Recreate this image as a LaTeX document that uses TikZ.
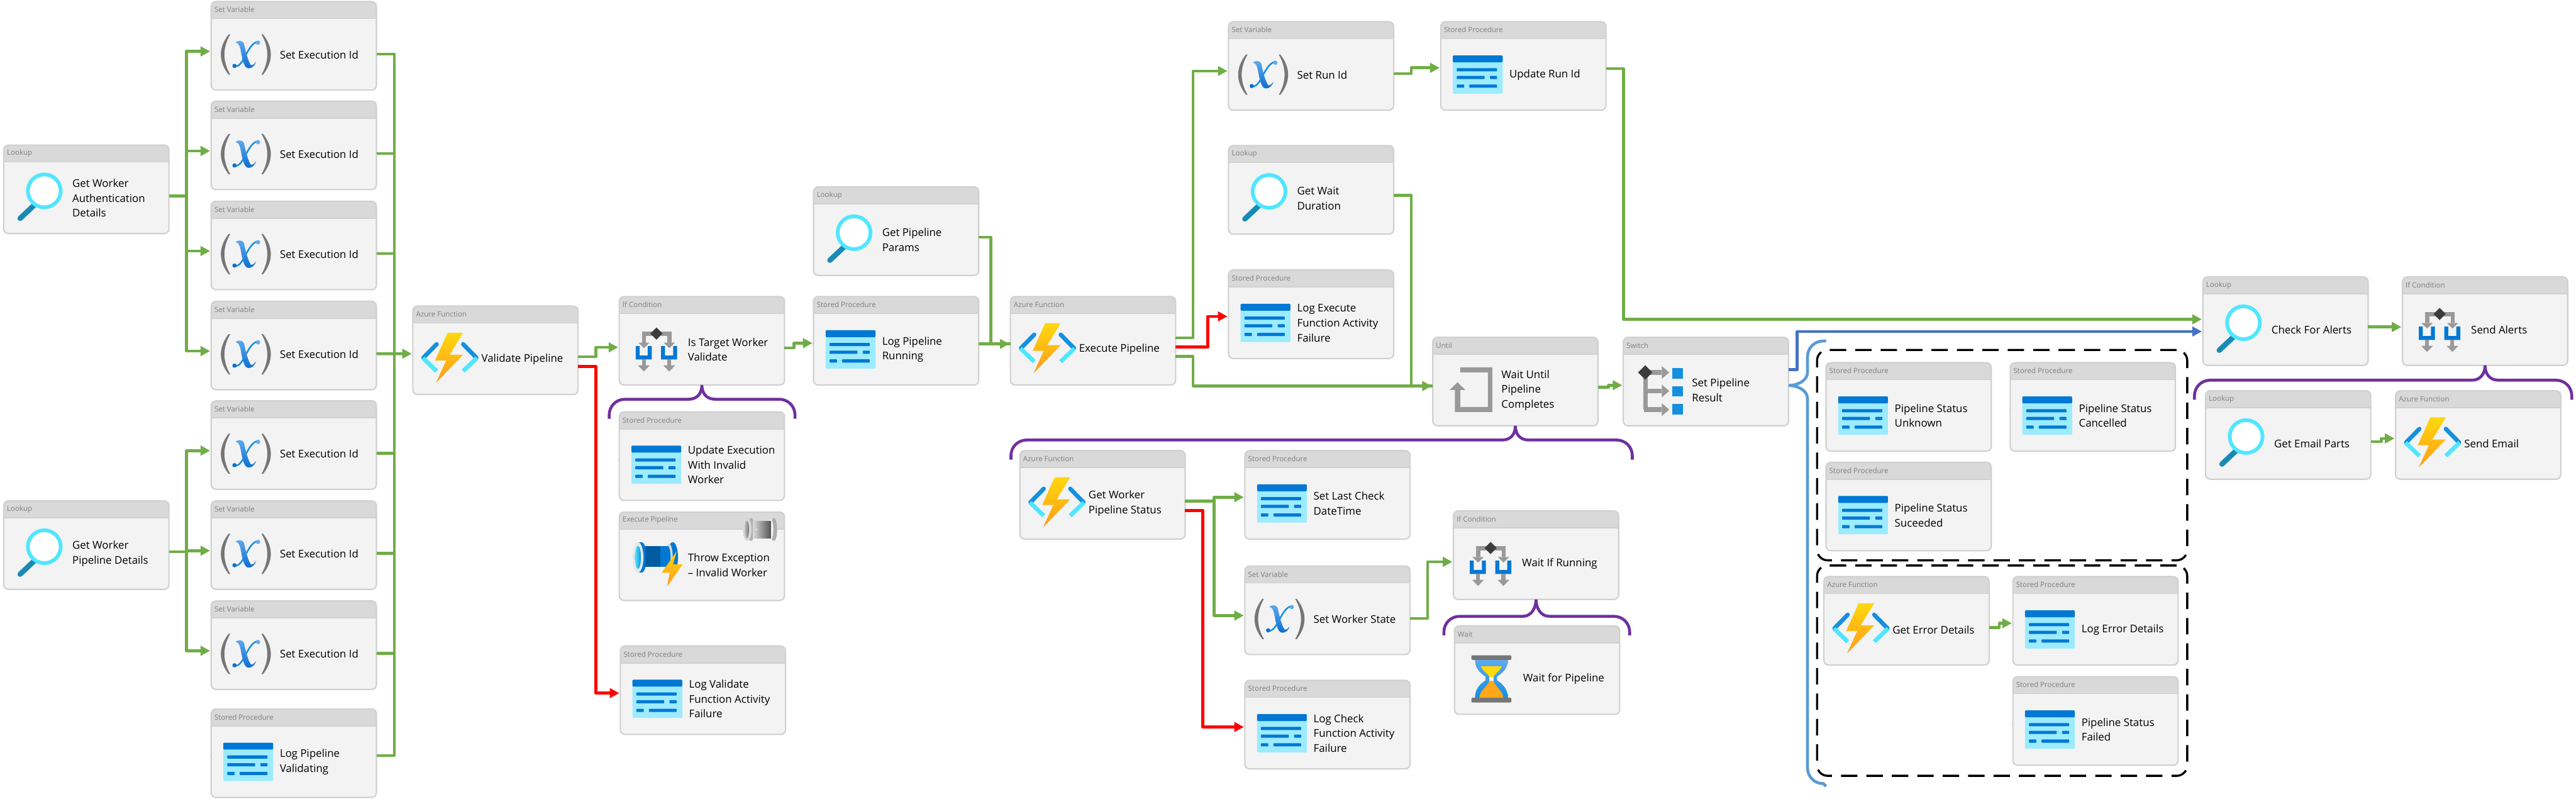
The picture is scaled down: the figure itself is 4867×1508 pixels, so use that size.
\documentclass[tikz,border=0pt]{standalone}
\usepackage{xcolor}
\usepackage{fontspec}
\setmainfont{Open Sans}
\usetikzlibrary{arrows.meta}

\definecolor{boxfill}{HTML}{F3F3F3}
\definecolor{boxhead}{HTML}{D9D9D9}
\definecolor{boxedge}{HTML}{D0D0D0}
\definecolor{kindgray}{HTML}{7F7F7F}
\definecolor{flowgreen}{HTML}{70AD47}
\definecolor{flowblue}{HTML}{4472C4}
\definecolor{flowred}{HTML}{FF0000}
\definecolor{bracepurple}{HTML}{7030A0}
\definecolor{bracesky}{HTML}{5B9BD5}
\definecolor{azure}{HTML}{0078D4}
\definecolor{azuredark}{HTML}{005BA1}
\definecolor{azuremid}{HTML}{1490DF}
\definecolor{cyanlight}{HTML}{50E6FF}
\definecolor{cyanpale}{HTML}{9CEBFF}
\definecolor{lenshandle}{HTML}{198AB3}
\definecolor{icongray}{HTML}{999999}
\definecolor{icondark}{HTML}{3B3B3B}
\definecolor{parengray}{HTML}{767676}
\definecolor{boltyellow}{HTML}{FED80E}
\definecolor{boltorange}{HTML}{FE9B1A}
\definecolor{xlight}{HTML}{5EA9EF}
\definecolor{xdark}{HTML}{0F6FD0}

% Icons, drawn from the top left corner of their box
\tikzset{
	lookupicon/.pic={
		\draw[lenshandle, line width=.1cm, line cap=round] (58,115) -- (32,139.5);
		\draw[cyanlight, fill=white, line width=.07cm] (77.7,87.5) circle (.31cm);
	},
	storedicon/.pic={
		\fill[cyanpale, rounded corners=.015cm] (24,64.7) rectangle (118,137);
		\fill[azure, rounded corners=.015cm] (24,64.7) rectangle (118,77.7);
		\foreach \ya/\xa/\xb/\xc/\xd in {91.7/31.3/107.3/0/0, 106.3/31.3/84/94/107.3, 122.7/31.3/45.3/55/107.3}{
			\fill[azure, rounded corners=.01cm] (\xa,\ya-3) rectangle (\xb,\ya+3);
			\fill[azure, rounded corners=.01cm] (\xc,\ya-3) rectangle (\xd,\ya+3);
		}
	},
	functionicon/.pic={
		\draw[azuremid, line width=.08cm, line cap=round] (46,73) -- (21,98.5);
		\draw[cyanlight, line width=.08cm] (20,99) -- (46,124);
		\draw[azuremid, line width=.08cm, line cap=round] (96,73) -- (121,98.5);
		\draw[cyanlight, line width=.08cm] (122,99) -- (96,124);
		\shade[top color=boltyellow, bottom color=boltorange] (66.7,51.3) -- (96,51.3) -- (70.6,93) -- (96,93) -- (44.7,146) -- (64,103.7) -- (43,103.7) -- cycle;
	},
	varicon/.pic={
		\fill[parengray] (34,63) .. controls (14.4,88) and (14.4,114) .. (34,139) -- (37,139) .. controls (22.3,114) and (22.3,88) .. (37,63) -- cycle;
		\fill[parengray] (99,63) .. controls (118.6,88) and (118.6,114) .. (99,139) -- (96,139) .. controls (110.7,114) and (110.7,88) .. (96,63) -- cycle;
		\draw[azuremid, line width=.03cm] (89,77) .. controls (78,78) and (70,95) .. (62,110) .. controls (56,120) and (50,126) .. (45,122);
		\shade[top color=xlight, bottom color=xdark] (47,78) .. controls (52,74) and (60,74) .. (63,80) .. controls (66,95) and (70,112) .. (76,121) .. controls (80,122) and (83,118) .. (86,114) .. controls (84,122) and (78,127) .. (72,127) .. controls (64,127) and (61,115) .. (58,100) .. controls (56,88) and (54,79) .. (47,78) -- cycle;
		\fill[xlight] (89.5,78.5) circle (.04cm);
		\fill[xdark] (45,122.5) circle (.04cm);
	},
	ificon/.pic={
		\fill[icongray] (44,67.7) rectangle (99.3,76);
		\foreach \dx in {0,48}{
			\fill[icongray] (44+\dx,67.7) rectangle (51.5+\dx,88);
			\fill[icongray] (37+\dx,88) -- (58.3+\dx,88) -- (47.7+\dx,98.5) -- cycle;
			\fill[azure] (32+\dx,94.7) -- (39.5+\dx,94.7) -- (39.5+\dx,112.5) -- (54.8+\dx,112.5) -- (54.8+\dx,94.7) -- (62.3+\dx,94.7) -- (62.3+\dx,120) -- (32+\dx,120) -- cycle;
			\fill[icongray] (43.7+\dx,120) rectangle (51+\dx,131);
			\fill[icongray] (36.3+\dx,131) -- (58.7+\dx,131) -- (47.5+\dx,142.7) -- cycle;
		}
		\fill[icondark] (71.3,59.5) -- (82.8,71) -- (71.3,82.5) -- (59.8,71) -- cycle;
	},
	untilicon/.pic={
		\fill[icongray] (52.9,57.9) -- (113.5,57.9) -- (113.5,142) -- (42.7,142) -- (42.7,100.6) -- (33,100.6) -- (47.8,86) -- (62.5,100.6) -- (52.9,100.6) -- (52.9,132.5) -- (105.2,132.5) -- (105.2,67.4) -- (52.9,67.4) -- cycle;
	},
	switchicon/.pic={
		\fill[icongray] (38.6,67.4) rectangle (47.6,137.6);
		\foreach \ya in {67.4,102.5,137.6}{
			\fill[icongray] (40,\ya-4.5) rectangle (73.7,\ya+4.5);
			\fill[icongray] (73.7,\ya-12) -- (87.7,\ya) -- (73.7,\ya+12) -- cycle;
		}
		\foreach \ya in {59,93,127.4}{
			\fill[azuremid] (93.5,\ya) rectangle (114,\ya+20);
		}
		\fill[icondark] (42.4,53.9) -- (55.9,67.4) -- (42.4,80.9) -- (28.9,67.4) -- cycle;
	},
	waiticon/.pic={
		\shade[top color=xlight, bottom color=azuremid] (39.7,65.3) .. controls (39.7,82) and (50,90) .. (59.7,97) -- (59.7,104) .. controls (50,110) and (39.7,120) .. (39.7,137) -- (102,137) .. controls (102,120) and (91,110) .. (81.3,104) -- (81.3,97) .. controls (91,90) and (102,82) .. (102,65.3) -- cycle;
		\fill[boxfill] (67,95) rectangle (74.7,106);
		\fill[boltyellow] (51,77.3) -- (90.3,77.3) .. controls (86,88) and (78,90) .. (74.7,97.3) -- (67,97.3) .. controls (63,90) and (55,88) .. (51,77.3) -- cycle;
		\fill[boltorange!80!boltyellow] (48,137) .. controls (49,122) and (62,118) .. (67,105) -- (74.7,105) .. controls (79,118) and (92,122) .. (93,137) -- cycle;
		\fill[parengray, rounded corners=.015cm] (33,56.7) rectangle (108.3,65.3);
		\fill[parengray, rounded corners=.015cm] (33,137) rectangle (108.3,145.7);
	},
	pipelineicon/.pic={
		% blue pipe
		\fill[azure] (102,86.7) ellipse (.1cm and .287cm);
		\fill[boxhead] (95,86.7) ellipse (.07cm and .26cm);
		\fill[azure] (43,86.7) ellipse (.1cm and .287cm);
		\fill[azure] (36.3,58) rectangle (43,115.4);
		\fill[boxhead!60!white] (36.3,86.7) ellipse (.103cm and .287cm);
		\shade[left color=cyanlight, right color=azuremid] (36.3,86.7) ellipse (.057cm and .217cm);
		\fill[azure] (92,84.9) ellipse (.06cm and .199cm);
		\fill[azure] (78.7,65) rectangle (92,104.7);
		\fill[azuredark] (50,65) rectangle (78.7,104.7);
		\shade[top color=boltyellow, bottom color=boltorange] (109.3,75.7) -- (81,115.7) -- (96,115.7) -- (91.7,141.3) -- (121,99.7) -- (102.7,99.7) -- cycle;
		% grey pipe in the header
		\fill[icongray!80!white] (293,34) ellipse (.063cm and .217cm);
		\fill[boxfill] (287,34) ellipse (.05cm and .2cm);
		\fill[icongray!80!white] (250,34) ellipse (.06cm and .217cm);
		\fill[boxhead] (242.7,34) ellipse (.083cm and .217cm);
		\shade[left color=icongray!60!white, right color=parengray] (242,34) ellipse (.043cm and .167cm);
		\shade[left color=boxhead, right color=parengray!70!black] (254,18) rectangle (287.7,50);
		\fill[boxfill] (260,34) circle (.015cm);
	}
}

% One activity: name, left, top, kind, icon, text
\newcommand{\activity}[6]{
	\node[actbox] (#1) at (#2+1,#3+1) {};
	\node[actkind] (#1kind) at ([xshift=.055cm,yshift=-.155cm]#1.north west) {#4};
	\pic at (#2,#3) {#5};
	\node[acttext] (#1text) at ([xshift=1.29cm,yshift=-1cm]#1.north west) {#6};
}

% Purple bracket under a node: node, left, right, horizontal y, arm end y
\newcommand{\bracket}[5]{
	\coordinate (#1left) at (#2,#5);
	\coordinate (#1right) at (#3,#5);
	\draw[bracket] (#1left) -- (#2,#4+30) .. controls +(0,-17) and +(-17,0) .. ++(30,-30) -- ([xshift=-.25cm]#1.south |- 0,#4) .. controls +(17,0) and +(0,15) .. (#1.south) .. controls +(0,15) and +(-17,0) .. ([xshift=.25cm]#1.south |- 0,#4) -- (#3-30,#4) .. controls +(17,0) and +(0,-17) .. ++(30,30) -- (#1right);
}

\begin{document}
\begin{tikzpicture}[
		x=.01cm, y=-.01cm,
		actbox/.style={draw=boxedge, fill=boxfill, line width=.025cm, rounded corners=.09cm, anchor=north west, minimum width=3.12cm, minimum height=1.67cm, inner sep=0pt, outer sep=0pt,
			path picture={\fill[boxhead, sharp corners] (path picture bounding box.north west) rectangle ([yshift=-.32cm]path picture bounding box.north east);
				\draw[boxedge, sharp corners, line width=.02cm] ([yshift=-.32cm]path picture bounding box.north west) -- ([yshift=-.32cm]path picture bounding box.north east);}},
		actkind/.style={font=\fontsize{3.9}{5}\selectfont, text=kindgray, anchor=west, inner sep=0pt},
		acttext/.style={font=\fontsize{5.7}{8}\selectfont, text=black, align=left, anchor=west, inner sep=0pt},
		flowline/.style={flowgreen, line width=.055cm, line join=round},
		flow/.style={flowline, -{Triangle[length=.18cm,width=.18cm]}, shorten >=.02cm},
		failflow/.style={flow, flowred},
		skipflow/.style={flow, flowblue},
		bracket/.style={bracepurple, line width=.055cm},
		groupbox/.style={draw=black, line width=.04cm, dash pattern=on .31cm off .17cm, rounded corners=.2cm, anchor=north west, inner sep=0pt, outer sep=0pt, minimum width=6.99cm, minimum height=3.97cm}
	]
	\useasboundingbox (0,0) rectangle (4867,1508);
	
	% Dashed groups
	\node[groupbox] (okgroup) at (3433,661) {};
	\node[groupbox] (failgroup) at (3433,1068) {};
	
	% Activities
	\activity{auth}{6}{273}{Lookup}{lookupicon}{Get Worker\\Authentication\\Details}
	\activity{details}{6}{945}{Lookup}{lookupicon}{Get Worker\\Pipeline Details}
	\activity{setid1}{398}{2}{Set Variable}{varicon}{Set Execution Id}
	\activity{setid2}{398}{190}{Set Variable}{varicon}{Set Execution Id}
	\activity{setid3}{398}{379}{Set Variable}{varicon}{Set Execution Id}
	\activity{setid4}{398}{568}{Set Variable}{varicon}{Set Execution Id}
	\activity{setid5}{398}{756}{Set Variable}{varicon}{Set Execution Id}
	\activity{setid6}{398}{945}{Set Variable}{varicon}{Set Execution Id}
	\activity{setid7}{398}{1134}{Set Variable}{varicon}{Set Execution Id}
	\activity{logvalidating}{398}{1338}{Stored Procedure}{storedicon}{Log Pipeline\\Validating}
	\activity{validate}{779}{577}{Azure Function}{functionicon}{Validate Pipeline}
	\activity{target}{1169}{559}{If Condition}{ificon}{Is Target Worker\\Validate}
	\activity{invalid}{1169}{777}{Stored Procedure}{storedicon}{Update Execution\\With Invalid\\Worker}
	\activity{throw}{1169}{966}{Execute Pipeline}{pipelineicon}{Throw Exception\\-- Invalid Worker}
	\activity{logvalidate}{1171}{1219}{Stored Procedure}{storedicon}{Log Validate\\Function Activity\\Failure}
	\activity{params}{1536}{352}{Lookup}{lookupicon}{Get Pipeline\\Params}
	\activity{running}{1536}{559}{Stored Procedure}{storedicon}{Log Pipeline\\Running}
	\activity{execute}{1908}{559}{Azure Function}{functionicon}{Execute Pipeline}
	\activity{status}{1926}{850}{Azure Function}{functionicon}{Get Worker\\Pipeline Status}
	\activity{runid}{2320}{40}{Set Variable}{varicon}{Set Run Id}
	\activity{updaterun}{2721}{40}{Stored Procedure}{storedicon}{Update Run Id}
	\activity{duration}{2320}{274}{Lookup}{lookupicon}{Get Wait\\Duration}
	\activity{logexecute}{2320}{509}{Stored Procedure}{storedicon}{Log Execute\\Function Activity\\Failure}
	\activity{lastcheck}{2351}{850}{Stored Procedure}{storedicon}{Set Last Check\\DateTime}
	\activity{state}{2351}{1068}{Set Variable}{varicon}{Set Worker State}
	\activity{logcheck}{2351}{1284}{Stored Procedure}{storedicon}{Log Check\\Function Activity\\Failure}
	\activity{until}{2706}{636}{Until}{untilicon}{Wait Until\\Pipeline\\Completes}
	\activity{waitif}{2745}{964}{If Condition}{ificon}{Wait If Running}
	\activity{waitfor}{2747}{1181}{Wait}{waiticon}{Wait for Pipeline}
	\activity{result}{3066}{636}{Switch}{switchicon}{Set Pipeline\\Result}
	\activity{unknown}{3449}{684}{Stored Procedure}{storedicon}{Pipeline Status\\Unknown}
	\activity{cancelled}{3797}{684}{Stored Procedure}{storedicon}{Pipeline Status\\Cancelled}
	\activity{suceeded}{3449}{872}{Stored Procedure}{storedicon}{Pipeline Status\\Suceeded}
	\activity{errors}{3445}{1088}{Azure Function}{functionicon}{Get Error Details}
	\activity{logerrors}{3802}{1088}{Stored Procedure}{storedicon}{Log Error Details}
	\activity{failed}{3802}{1277}{Stored Procedure}{storedicon}{Pipeline Status\\Failed}
	\activity{alerts}{4161}{522}{Lookup}{lookupicon}{Check For Alerts}
	\activity{sendalerts}{4538}{522}{If Condition}{ificon}{Send Alerts}
	\activity{parts}{4166}{737}{Lookup}{lookupicon}{Get Email Parts}
	\activity{email}{4525}{737}{Azure Function}{functionicon}{Send Email}
	
	% Arrows (set execution id)
	\foreach \act in {setid1,setid2,setid3,setid4}
	\draw[flow] ([yshift=-.125cm]auth.east) -- ++(33,0) |- ([yshift=-.105cm]\act.west);
	\foreach \act in {setid5,setid6,setid7}
	\draw[flow] ([yshift=-.125cm]details.east) -- ++(33,0) |- ([yshift=-.105cm]\act.west);
	\foreach \act in {setid2,setid3,setid5,setid6,setid7}
	\draw[flowline] ([yshift=-.155cm]\act.east) -- ++(34,0);
	\draw[flowline] ([yshift=-.155cm]setid1.east) -- ++(34,0) |- ([yshift=-.045cm]logvalidating.east);
	\draw[flow] ([yshift=-.155cm]setid4.east) -- ([yshift=-.065cm]validate.west);
	
	% Arrows (validate)
	\draw[flow] ([yshift=-.12cm]validate.east) -- ++(34,0) |- ([yshift=-.125cm]target.west);
	\draw[failflow] ([yshift=-.305cm]validate.east) -- ++(34,0) |- ([yshift=-.055cm]logvalidate.west);
	\draw[flow] ([yshift=-.135cm]target.east) -- ++(18,0) |- ([yshift=-.045cm]running.west);
	\draw[flowline] ([yshift=-.115cm]params.east) -- ++(23,0) |- ([yshift=-.06cm]execute.west);
	\draw[flow] ([yshift=-.06cm]running.east) -- ([yshift=-.06cm]execute.west);
	
	% Arrows (execute)
	\draw[flow] ([yshift=.055cm]execute.east) -- ++(33,0) |- ([yshift=-.095cm]runid.west);
	\draw[failflow] ([yshift=-.115cm]execute.east) -- ++(61,0) |- ([yshift=-.04cm]logexecute.west);
	\draw[flow] ([yshift=-.295cm]execute.east) -- ++(33,0) |- ([yshift=-.085cm]until.west);
	\draw[flowline] ([yshift=-.105cm]duration.east) -- ++(33,0) |- ([yshift=-.085cm]until.west);
	\draw[flow] ([yshift=-.145cm]runid.east) -- ++(33,0) |- ([yshift=-.035cm]updaterun.west);
	\draw[flow] ([yshift=-.05cm]updaterun.east) -- ++(33,0) |- ([yshift=.035cm]alerts.west);
	\draw[flow] ([yshift=-.11cm]until.east) -- ++(20,0) |- ([yshift=-.07cm]result.west);
	\draw[skipflow] ([yshift=.225cm]result.east) -- ++(16,0) |- ([yshift=-.195cm]alerts.west);
	
	% Arrows (inside the until)
	\draw[flow] ([yshift=-.12cm]status.east) -- ++(55,0) |- ([yshift=-.045cm]lastcheck.west);
	\draw[flow] ([yshift=-.12cm]status.east) -- ++(55,0) |- ([yshift=-.1cm]state.west);
	\draw[failflow] ([yshift=-.295cm]status.east) -- ++(33,0) |- ([yshift=-.045cm]logcheck.west);
	\draw[flow] ([yshift=-.155cm]state.east) -- ++(33,0) |- ([yshift=-.125cm]waitif.west);
	
	% Arrows (end of the pipeline)
	\draw[flow] ([yshift=-.11cm]alerts.east) -- ([yshift=-.11cm]sendalerts.west);
	\draw[flow] ([yshift=-.125cm]parts.east) -- ++(20,0) |- ([yshift=-.065cm]email.west);
	\draw[flow] ([yshift=-.125cm]errors.east) -- ++(19,0) |- ([yshift=-.045cm]logerrors.west);
	
	% Brackets
	\bracket{target}{1151}{1502}{754}{791}
	\bracket{until}{1910}{3084}{831}{868}
	\bracket{waitif}{2728}{3079}{1164}{1200}
	\bracket{sendalerts}{4146}{4859}{718}{755}
	
	% Switch bracket
	\coordinate (resulttop) at (3450,644);
	\coordinate (resultup) at (3415,703);
	\coordinate (resultdown) at (3415,753);
	\coordinate (resultcorner) at (3415,1450);
	\coordinate (resultbottom) at (3450,1485);
	\draw[bracket, bracesky] (resulttop) -- ++(-5,0) .. controls +(-17,0) and +(0,-17) .. ++(-30,30) -- (resultup) .. controls +(0,17) and +(15,0) .. ([yshift=-.075cm]result.east) .. controls +(15,0) and +(0,-17) .. (resultdown) -- (resultcorner) .. controls +(0,17) and +(-17,0) .. ++(30,30) -- (resultbottom);
	
\end{tikzpicture}
\end{document}
